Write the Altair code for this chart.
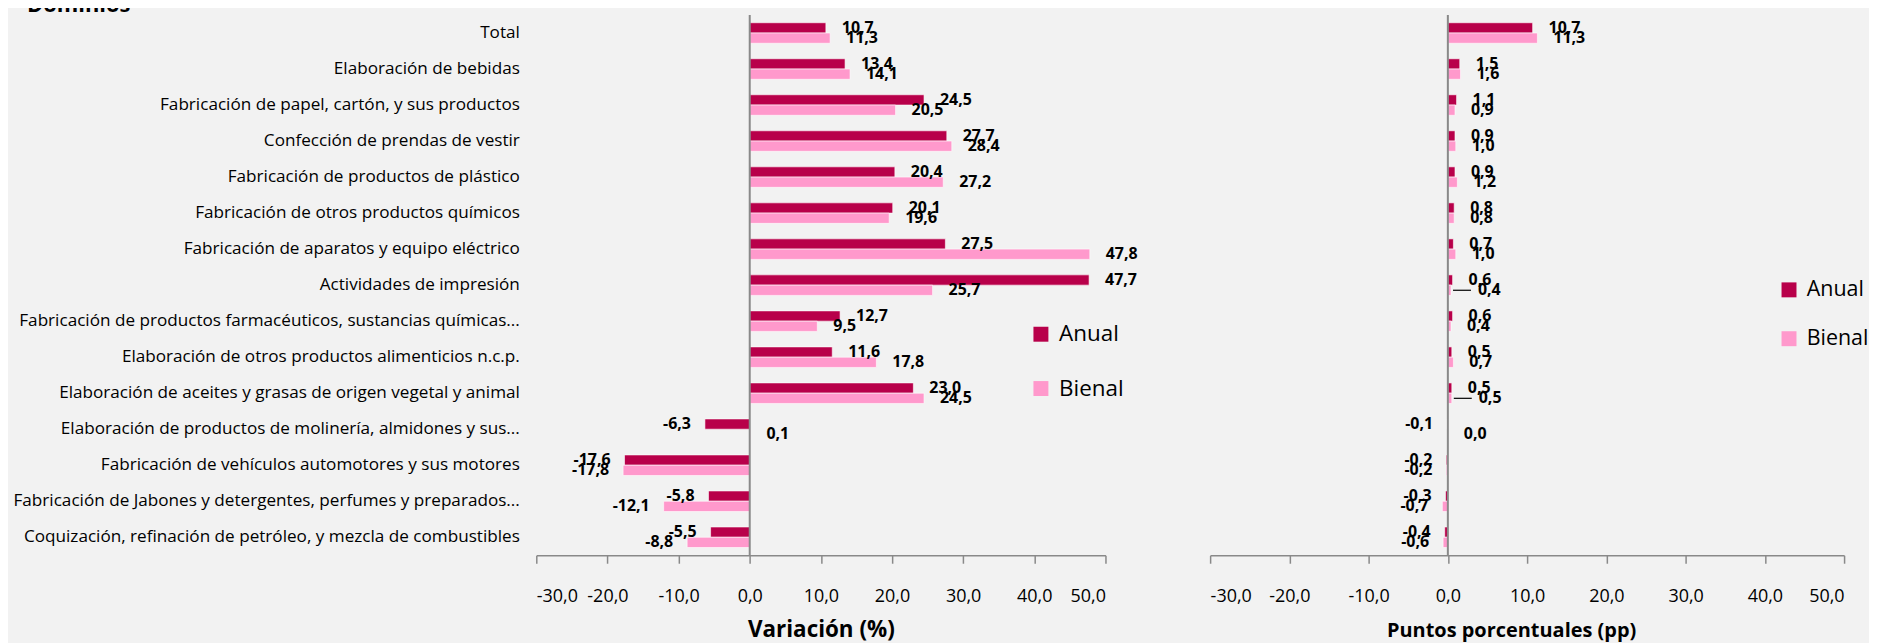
import altair as alt
import pandas as pd

FONT = "Open Sans"

title_text = "Dominios"
categories = [
    "Total",
    "Elaboración de bebidas ",
    "Fabricación de papel, cartón, y sus productos",
    "Confección de prendas de vestir",
    "Fabricación de productos de plástico",
    "Fabricación de otros productos químicos",
    "Fabricación de aparatos y equipo eléctrico",
    "Actividades de impresión",
    "Fabricación de productos farmacéuticos, sustancias químicas...",
    "Elaboración de otros productos alimenticios n.c.p. ",
    "Elaboración de aceites y grasas de origen vegetal y animal",
    "Elaboración de productos de molinería, almidones y sus...",
    "Fabricación de vehículos automotores y sus motores",
    "Fabricación de Jabones y detergentes, perfumes y preparados...",
    "Coquización, refinación de petróleo, y mezcla de combustibles",
]
anual_var = [10.7, 13.4, 24.5, 27.7, 20.4, 20.1, 27.5, 47.7, 12.7, 11.6, 23.0, -6.3, -17.6, -5.8, -5.5]
bienal_var = [11.3, 14.1, 20.5, 28.4, 27.2, 19.6, 47.8, 25.7, 9.5, 17.8, 24.5, 0.1, -17.8, -12.1, -8.8]
anual_pp = [10.7, 1.5, 1.1, 0.9, 0.9, 0.8, 0.7, 0.6, 0.6, 0.5, 0.5, -0.1, -0.2, -0.3, -0.4]
bienal_pp = [11.3, 1.6, 0.9, 1.0, 1.2, 0.8, 1.0, 0.4, 0.4, 0.7, 0.5, 0.0, -0.2, -0.7, -0.6]
series = ["Anual", "Bienal"]
colors = ["#B8004A", "#FF99CC"]
x_ticks = [-30, -20, -10, 0, 10, 20, 30, 40, 50]
x_title_left = "Variación (%)"
x_title_right = "Puntos porcentuales (pp)"
leader_rows = [
    "Actividades de impresión",
    "Elaboración de aceites y grasas de origen vegetal y animal",
]

rows = []
for i, c in enumerate(categories):
    rows.append({"cat": c, "serie": "Anual", "var": anual_var[i], "pp": anual_pp[i], "leader": False})
    rows.append({"cat": c, "serie": "Bienal", "var": bienal_var[i], "pp": bienal_pp[i],
                 "leader": c in leader_rows})
df = pd.DataFrame(rows)
zero_df = pd.DataFrame({"z": [0]})
title_df = pd.DataFrame({"t": [title_text]})

LBL = "(datum.v < 0 ? '-' : '') + replace(format(abs(datum.v), '.1f'), '.', ',')"
TICK_EXPR = "(datum.value < 0 ? '-' : '') + replace(format(abs(datum.value), '.1f'), '.', ',')"


def panel(field, width, show_labels, xtitle, title_kw, lx, ly, rowpad, lfont,
          use_leader, add_title):
    base = alt.Chart(df).transform_calculate(v=f"datum['{field}']")
    y = alt.Y(
        "cat:N", sort=categories,
        scale=alt.Scale(paddingInner=0.43, paddingOuter=0.215),
        axis=alt.Axis(labels=show_labels, ticks=False, domain=False, title=None,
                      labelPadding=17, labelFontSize=17.2, labelLimit=0,
                      labelColor="#000000", labelFont=FONT),
    )
    axis_kw = dict(values=x_ticks, labelExpr=TICK_EXPR, title=xtitle, grid=False)
    axis_kw.update(title_kw)
    x = alt.X(
        "v:Q",
        scale=alt.Scale(domain=[-30, 50], nice=False, zero=False),
        axis=alt.Axis(**axis_kw),
    )
    yoff = alt.YOffset("serie:N", sort=series)
    color = alt.Color(
        "serie:N",
        scale=alt.Scale(domain=series, range=colors),
        legend=alt.Legend(orient="none", legendX=lx, legendY=ly, title=None,
                          labelFontSize=lfont, labelFont=FONT, labelColor="#000000",
                          symbolType="square", symbolSize=225, symbolStrokeWidth=0,
                          rowPadding=rowpad, labelOffset=7, padding=0),
    )
    bars = base.mark_bar(stroke="#ffffff", strokeWidth=0.6).encode(
        y=y, x=x, yOffset=yoff, color=color)
    zero = alt.Chart(zero_df).mark_rule(color="#898989", strokeWidth=2).encode(x=alt.datum(0))

    def txt(cond, dx, align):
        return base.transform_filter(cond).transform_calculate(lbl=LBL).mark_text(
            align=align, dx=dx, baseline="middle", fontWeight="bold", fontSize=16,
            color="#000000", font=FONT,
        ).encode(y=y, x=x, yOffset=yoff, text="lbl:N")

    if use_leader:
        pos_cond = "datum.v >= 0 && !datum.leader"
    else:
        pos_cond = "datum.v >= 0"
    layers = [bars, zero, txt(pos_cond, 16, "left"), txt("datum.v < 0", -14, "right")]
    if use_leader:
        layers.append(txt("datum.v >= 0 && datum.leader", 27, "left"))
        layers.append(
            base.transform_filter("datum.leader").mark_rule(
                color="#000000", strokeWidth=1.2, xOffset=2, x2Offset=20
            ).encode(y=y, x=x, x2="v:Q", yOffset=yoff)
        )
    if add_title:
        layers.append(
            alt.Chart(title_df).mark_text(
                align="left", baseline="alphabetic", fontSize=22, fontWeight="bold",
                font=FONT, color="#000000",
            ).encode(x=alt.value(-511), y=alt.value(-3), text="t:N")
        )
    return alt.layer(*layers).properties(width=width, height=542)


left = panel("var", 571, True, x_title_left,
             dict(titleFontSize=22.5, titlePadding=14),
             495, 309, 31.5, 22.5, False, True)
right = panel("pp", 636, False, x_title_right,
              dict(titleFontSize=20, titlePadding=16, titleX=302),
              570, 265, 26, 21.5, True, False)

chart = alt.hconcat(left, right, spacing=105, bounds="flush").resolve_legend(
    color="independent"
).properties(
    background="#F2F2F2",
    padding={"left": 4, "top": -15, "right": 0, "bottom": 0},
).configure_view(stroke=None).configure_axisX(
    domainColor="#898989", domainWidth=1.5, tickColor="#898989", tickWidth=1.5,
    tickSize=8, labelFontSize=18, labelPadding=24, labelColor="#000000",
    labelFont=FONT, titleFont=FONT, titleFontWeight="bold", titleColor="#000000",
)

chart.save("out.html", embed_options={"renderer": "svg", "actions": False})
